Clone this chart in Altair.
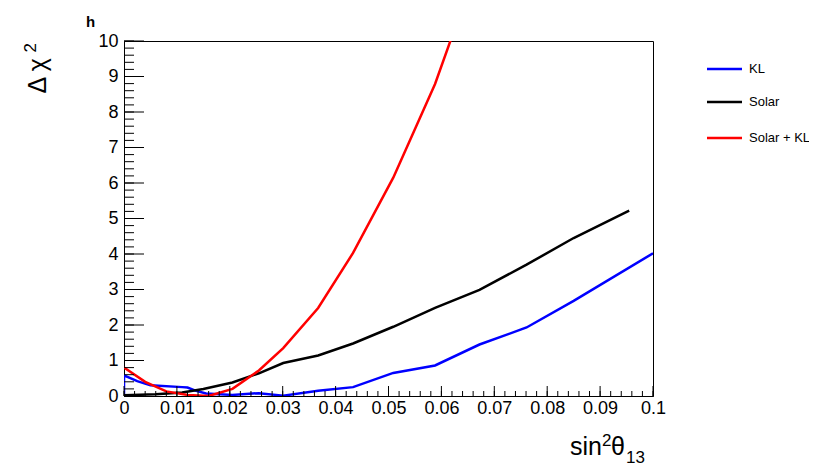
import altair as alt
import pandas as pd

# ---- data ----
kl_x = [0.0, 0.0, 0.0025, 0.005, 0.011, 0.012, 0.0135, 0.0155, 0.0205, 0.0255, 0.0301, 0.0367,
        0.0433, 0.0509, 0.0588, 0.0672, 0.0761, 0.085, 0.1]
kl_y = [0.0, 0.58, 0.42, 0.30, 0.25, 0.24, 0.15, 0.07, 0.03, 0.08, 0.01, 0.15,
        0.25, 0.65, 0.86, 1.45, 1.93, 2.68, 4.02]

solar_x = [0.0, 0.006, 0.011, 0.015, 0.0205, 0.0255, 0.0301, 0.0367, 0.0433, 0.0509, 0.0588,
           0.0672, 0.0761, 0.085, 0.0955]
solar_y = [0.02, 0.05, 0.10, 0.20, 0.38, 0.64, 0.93, 1.14, 1.48, 1.95, 2.48,
           2.99, 3.70, 4.45, 5.22]

skl_x = [0.0, 0.004, 0.008, 0.012, 0.016, 0.0205, 0.0255, 0.0301, 0.0367, 0.0433, 0.0509,
         0.0588, 0.0672]
skl_y = [0.80, 0.40, 0.13, 0.03, 0.0, 0.20, 0.72, 1.35, 2.48, 4.03, 6.15,
         8.79, 12.3]

series_names = ["KL", "Solar", "Solar + KL"]
series_colors = ["#0000ff", "#000000", "#ff0000"]

x_major = [0, 0.01, 0.02, 0.03, 0.04, 0.05, 0.06, 0.07, 0.08, 0.09, 0.1]
y_major = [0, 1, 2, 3, 4, 5, 6, 7, 8, 9, 10]
x_minor = [round(i * 0.002, 4) for i in range(51)]
y_minor = [round(i * 0.2, 2) for i in range(51)]

# ---- build tables ----
rows = []
for name, xs_, ys_ in zip(series_names, [kl_x, solar_x, skl_x], [kl_y, solar_y, skl_y]):
    for i, (a, b) in enumerate(zip(xs_, ys_)):
        rows.append({"series": name, "x": a, "y": b, "i": i})
df = pd.DataFrame(rows)

W, H = 529, 355
FONT = "Liberation Sans"

xs = alt.Scale(domain=[0, 0.1], nice=False, zero=False)
ys = alt.Scale(domain=[0, 10], nice=False, zero=False)
cs = alt.Scale(domain=series_names, range=series_colors)

x_axis = alt.Axis(values=x_major, format="~g", ticks=False, grid=False,
                  domainColor="black", labelFont=FONT, labelFontSize=18,
                  labelColor="black", labelPadding=3, labelOverlap=False,
                  labelFlush=False, title=None)
y_axis = alt.Axis(values=y_major, format="d", ticks=False, grid=False,
                  domainColor="black", labelFont=FONT, labelFontSize=18,
                  labelColor="black", labelPadding=6, labelOverlap=False,
                  labelFlush=False, labelBound=False, title=None)

lines = alt.Chart(df).mark_line(strokeWidth=2.5, clip=True).encode(
    x=alt.X("x:Q", scale=xs, axis=x_axis),
    y=alt.Y("y:Q", scale=ys, axis=y_axis),
    color=alt.Color("series:N", scale=cs, legend=None),
    order="i:Q",
)

def xticks(vals, length):
    d = pd.DataFrame({"v": vals})
    return alt.Chart(d).mark_rule(color="black", strokeWidth=1).encode(
        x=alt.X("v:Q", scale=xs, axis=x_axis), y=alt.value(H), y2=alt.value(H - length))

def yticks(vals, length):
    d = pd.DataFrame({"v": vals})
    return alt.Chart(d).mark_rule(color="black", strokeWidth=1).encode(
        y=alt.Y("v:Q", scale=ys, axis=y_axis), x=alt.value(0), x2=alt.value(length))

layers = [lines, xticks(x_minor, 5), xticks(x_major, 10), yticks(y_minor, 10), yticks(y_major, 20)]

# legend
leg_y = [28, 61, 97]
for name, col, yy in zip(series_names, series_colors, leg_y):
    d = pd.DataFrame({"s": [name]})
    layers.append(alt.Chart(d).mark_rule(color=col, strokeWidth=2.5).encode(
        x=alt.value(583), x2=alt.value(618), y=alt.value(yy)))
    layers.append(alt.Chart(d).mark_text(align="left", baseline="middle", font=FONT,
                                         fontSize=13, color="black").encode(
        x=alt.value(625), y=alt.value(yy), text="s:N"))

def label(txt, x, y, size, angle=0, align="left", baseline="alphabetic", weight="normal"):
    d = pd.DataFrame({"t": [txt]})
    kw = dict(align=align, baseline=baseline, font=FONT, fontSize=size,
              color="black", fontWeight=weight)
    if angle:
        kw["angle"] = angle
    return alt.Chart(d).mark_text(**kw).encode(x=alt.value(x), y=alt.value(y), text="t:N")

# x title sin^2 theta_13
layers.append(label("sin", 446, 414, 25))
layers.append(label("2", 478, 405, 17))
layers.append(label("θ", 487, 414, 25))
layers.append(label("13", 502, 422, 17))
# y title  Delta chi^2
layers.append(label("Δ χ", -78, 17, 25, angle=270, align="right"))
layers.append(label("2", -88, 2, 17, angle=270, align="right"))
# title h
layers.append(label("h", -38, -14, 15, weight="bold"))

chart = alt.layer(*layers).properties(
    width=W, height=H,
    autosize=alt.AutoSizeParams(type="none"),
    padding={"left": 116, "top": 33, "right": 156, "bottom": 70},
    background="white",
).configure_view(stroke="black", strokeWidth=1)

chart.save("out.html", embed_options={"renderer": "svg", "actions": False})
